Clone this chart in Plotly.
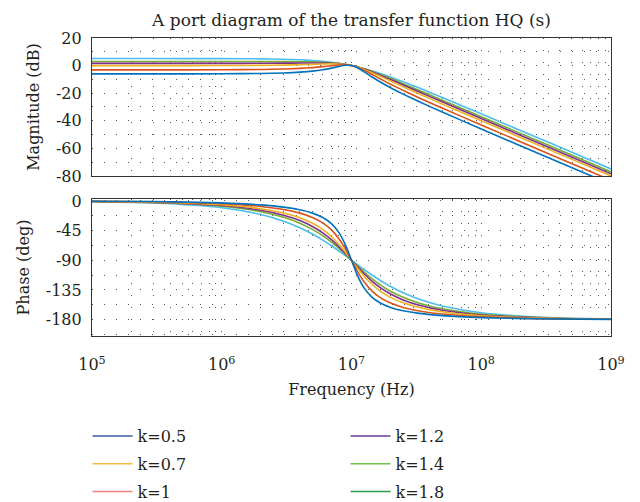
import plotly.graph_objects as go

# ---- data (frequency in Hz) ----
FREQ = [1e5, 3e5, 1e6, 2e6, 3e6, 4e6, 5e6, 6e6, 7e6, 8e6, 9e6, 1e7,
        1.111e7, 1.25e7, 1.4286e7, 1.6667e7, 2e7, 2.5e7, 3.333e7, 5e7, 1e8, 3.333e8, 1e9]

K_LABELS = ["k=0.5", "k=0.7", "k=1", "k=1.2", "k=1.4", "k=1.8"]

MAG_K05 = [-6.02, -6.01, -5.94, -5.71, -5.32, -4.75, -3.98, -3.01, -1.85, -0.64, 0.20, 0.00,
           -1.63, -4.52, -8.05, -11.88, -16.02, -20.67, -26.24, -33.67, -45.94, -66.92, -86.02]
MAG_K07 = [-3.10, -3.09, -3.03, -2.83, -2.50, -2.04, -1.46, -0.78, -0.09, 0.44, 0.54, 0.00,
           -1.29, -3.44, -6.29, -9.65, -13.50, -17.96, -23.42, -30.79, -43.03, -64.01, -83.10]
MAG_K10 = [0.00, 0.00, 0.04, 0.17, 0.37, 0.63, 0.90, 1.14, 1.25, 1.14, 0.73, 0.00,
           -1.10, -2.74, -4.95, -7.73, -11.14, -15.29, -20.55, -27.79, -39.96, -60.91, -80.00]
MAG_K12 = [1.58, 1.59, 1.61, 1.68, 1.77, 1.87, 1.93, 1.91, 1.74, 1.37, 0.78, 0.00,
           -1.05, -2.51, -4.46, -6.96, -10.11, -14.05, -19.15, -26.28, -38.39, -59.33, -78.42]
MAG_K14 = [2.92, 2.92, 2.92, 2.92, 2.90, 2.84, 2.70, 2.45, 2.06, 1.51, 0.82, 0.00,
           -1.01, -2.37, -4.14, -6.42, -9.34, -13.08, -18.02, -25.04, -37.08, -57.99, -77.08]
MAG_K18 = [5.10, 5.10, 5.05, 4.89, 4.61, 4.23, 3.73, 3.13, 2.44, 1.67, 0.86, 0.00,
           -0.97, -2.21, -3.76, -5.74, -8.31, -11.69, -16.31, -23.07, -34.95, -55.82, -74.90]

PH_K05 = [-0.29, -0.86, -2.89, -5.95, -9.36, -13.39, -18.43, -25.11, -34.46, -48.01, -67.11, -90,
          -112.89, -131.99, -145.54, -154.89, -161.57, -166.61, -170.64, -174.05, -177.11, -179.14, -179.71]
PH_K07 = [-0.40, -1.20, -4.04, -8.30, -13.00, -18.43, -25.02, -33.27, -43.85, -57.26, -73.22, -90,
          -106.78, -122.74, -136.15, -146.73, -154.98, -161.57, -167.00, -171.70, -175.96, -178.80, -179.60]
PH_K10 = [-0.57, -1.72, -5.77, -11.77, -18.25, -25.46, -33.69, -43.15, -53.92, -65.77, -78.08, -90,
          -101.92, -114.23, -126.08, -136.85, -146.31, -154.54, -161.75, -168.23, -174.23, -178.28, -179.43]
PH_K12 = [-0.69, -2.06, -6.91, -14.04, -21.58, -29.74, -38.66, -48.37, -58.74, -69.44, -80.02, -90,
          -99.98, -110.56, -121.26, -131.63, -141.34, -150.26, -158.42, -165.96, -173.09, -177.94, -179.31]
PH_K14 = [-0.80, -2.41, -8.05, -16.26, -24.78, -33.69, -43.03, -52.70, -62.51, -72.18, -81.42, -90,
          -98.58, -107.82, -117.49, -127.30, -136.97, -146.31, -155.22, -163.74, -171.95, -177.59, -179.20]
PH_K18 = [-1.03, -3.09, -10.30, -20.56, -30.68, -40.60, -50.19, -59.35, -67.96, -75.96, -83.31, -90,
          -96.69, -104.04, -112.04, -120.65, -129.81, -139.40, -149.32, -159.44, -169.70, -176.91, -178.97]

MAG_TICKS = [20, 0, -20, -40, -60, -80]
MAG_TICKTEXT = ["20", "0", "-20", "-40", "-60", "-80"]
PH_TICKS = [0, -45, -90, -135, -180]
PH_TICKTEXT = ["0", "-45", "-90", "-135", "-180"]
PH_MINOR = [-22.5, -67.5, -112.5, -157.5, -202.5]
X_TICKS = [1e5, 1e6, 1e7, 1e8, 1e9]
X_TICKTEXT = ["10<sup>5</sup>", "10<sup>6</sup>", "10<sup>7</sup>", "10<sup>8</sup>", "10<sup>9</sup>"]

MAGS = [MAG_K05, MAG_K07, MAG_K10, MAG_K12, MAG_K14, MAG_K18]
PHS = [PH_K05, PH_K07, PH_K10, PH_K12, PH_K14, PH_K18]

# colours of the drawn curves and of the legend swatches
CURVE_COLORS = ["#0072BD", "#D95319", "#EDB120", "#7E2F8E", "#77AC30", "#4DBEEE"]
LEGEND_COLORS = ["#3a5ca8", "#f4b73f", "#ee8080", "#6a3d96", "#6cc24a", "#2e9b4e"]

FONT = "DejaVu Serif"
TXT = "#231f20"
GRIDC = "#555555"
GDASH = "1px,11px"

# the page body adds an 8 px margin, so the figure itself is 8 px smaller
W, H = 632, 494

fig = go.Figure()

order = [5, 4, 3, 2, 1, 0]
for i in order:
    fig.add_trace(go.Scatter(x=FREQ, y=MAGS[i], mode="lines",
                             line=dict(color=CURVE_COLORS[i], width=1.6, shape="spline", smoothing=0.6),
                             xaxis="x", yaxis="y", showlegend=False, hoverinfo="skip"))
for i in order:
    fig.add_trace(go.Scatter(x=FREQ, y=PHS[i], mode="lines",
                             line=dict(color=CURVE_COLORS[i], width=1.6, shape="spline", smoothing=0.6),
                             xaxis="x2", yaxis="y2", showlegend=False, hoverinfo="skip"))

# legend entries (two columns)
for i, lab in enumerate(K_LABELS):
    fig.add_trace(go.Scatter(x=[None], y=[None], mode="lines", name=lab,
                             line=dict(color=LEGEND_COLORS[i], width=1.5),
                             legend="legend" if i < 3 else "legend2", legendgroup=lab,
                             xaxis="x2", yaxis="y2"))

grid = dict(showgrid=True, gridcolor=GRIDC, griddash=GDASH, gridwidth=1)
minor_x = dict(showgrid=True, gridcolor=GRIDC, griddash=GDASH, gridwidth=1, dtick="D1")

common_x = dict(type="log", range=[5, 9], showline=True, linecolor="#333333", linewidth=1.2, mirror=True,
                zeroline=False, tickvals=X_TICKS, ticks="", minor=minor_x, **grid)

legend_common = dict(xanchor="left", yanchor="top", yref="container", orientation="v",
                     tracegroupgap=4, itemwidth=40,
                     bgcolor="rgba(0,0,0,0)", font=dict(size=16, family=FONT, color=TXT))

fig.update_layout(
    width=W, height=H,
    paper_bgcolor="white", plot_bgcolor="white",
    margin=dict(l=84, r=29, t=30, b=166, autoexpand=False),
    font=dict(family=FONT, color=TXT, size=16),
    title=dict(text="A port diagram of the transfer function HQ (s)", x=0.5, xref="paper",
               y=1 - 12 / H, yref="container", yanchor="middle", font=dict(size=17, family=FONT, color=TXT)),
    xaxis=dict(anchor="y", domain=[0, 1], showticklabels=False, **common_x),
    xaxis2=dict(anchor="y2", domain=[0, 1], ticktext=X_TICKTEXT, tickfont=dict(size=16),
                ticklabelstandoff=14,
                title=dict(text="Frequency (Hz)", standoff=10, font=dict(size=16)), **common_x),
    yaxis=dict(domain=[0.537, 1], range=[-80, 20], tickvals=MAG_TICKS, ticktext=MAG_TICKTEXT,
               showline=True, linecolor="#333333", linewidth=1.2, mirror=True, zeroline=False, ticks="",
               ticklabelstandoff=6,
               minor=dict(showgrid=True, gridcolor=GRIDC, griddash=GDASH, dtick=10),
               title=dict(text="Magnitude (dB)", standoff=12, font=dict(size=16)), **grid),
    yaxis2=dict(domain=[0, 0.4597], range=[-205, 3], tickvals=PH_TICKS, ticktext=PH_TICKTEXT,
                showline=True, linecolor="#333333", linewidth=1.2, mirror=True, zeroline=False, ticks="",
                ticklabelstandoff=6,
                minor=dict(showgrid=True, gridcolor=GRIDC, griddash=GDASH, tickvals=PH_MINOR),
                title=dict(text="Phase (deg)", standoff=12, font=dict(size=16)), **grid),
    legend=dict(x=-0.0085, y=1 - 411 / H, **legend_common),
    legend2=dict(x=0.4886, y=1 - 411 / H, **legend_common),
)

fig.write_html("out.html")
